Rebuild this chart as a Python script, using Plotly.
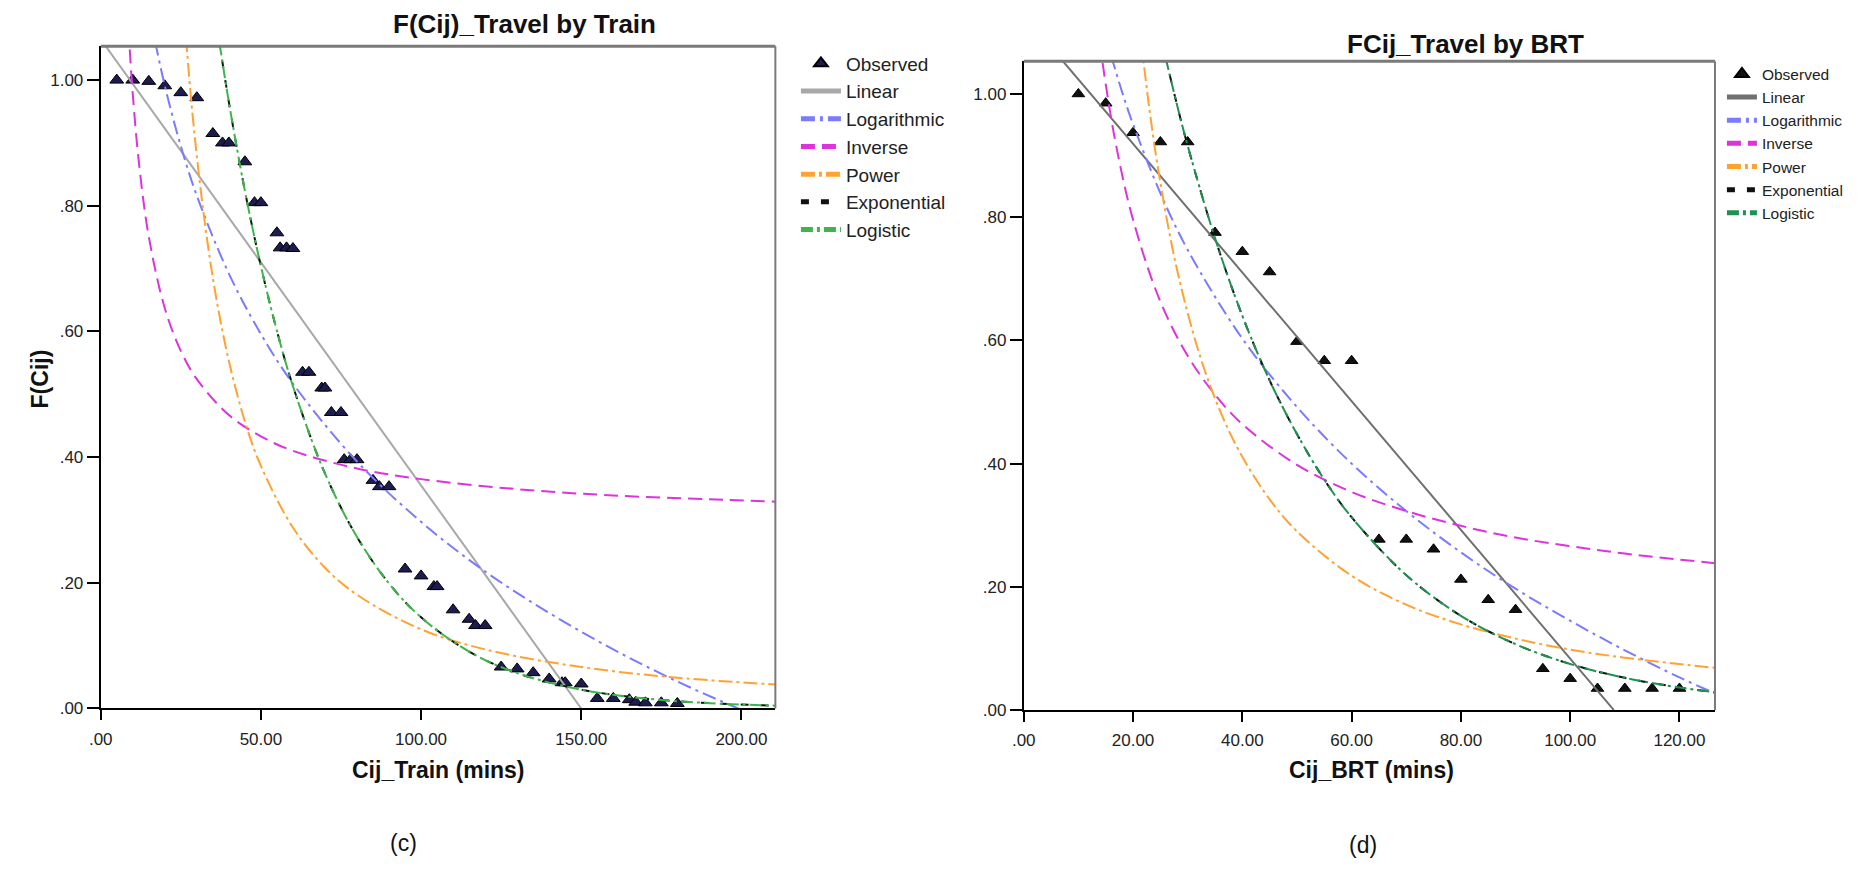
import plotly.graph_objects as go

W, H = 1866, 872
FONT = "Liberation Sans, Arial, sans-serif"

# ---------------- (c) Travel by Train ----------------
train_cij = [5, 10, 15, 20, 25, 30, 35, 38, 40, 45, 48, 50, 55, 56, 58, 60, 63, 65, 69, 70,
             72, 75, 76, 78, 80, 85, 87, 90, 95, 100, 104, 105, 110, 115, 117, 120, 125, 130,
             135, 140, 144, 145, 150, 155, 160, 165, 167, 170, 175, 180]
train_fcij = [1.000, 1.000, 0.998, 0.991, 0.980, 0.972, 0.915, 0.900, 0.900, 0.870, 0.805, 0.805,
              0.757, 0.733, 0.733, 0.732, 0.535, 0.535, 0.510, 0.510, 0.471, 0.471, 0.396, 0.396,
              0.396, 0.363, 0.353, 0.353, 0.222, 0.211, 0.194, 0.194, 0.157, 0.142, 0.132, 0.132,
              0.066, 0.063, 0.057, 0.047, 0.041, 0.041, 0.039, 0.016, 0.016, 0.014, 0.010, 0.009,
              0.009, 0.008]

train_linear_x = [0, 150]
train_linear_y = [1.065, 0.0]
train_log_x = [17, 20, 25, 30, 40, 50, 60, 80, 100, 120, 140, 160, 180, 199, 211]
train_log_y = [1.061, 0.991, 0.895, 0.816, 0.692, 0.596, 0.517, 0.393, 0.297, 0.218, 0.152,
               0.094, 0.043, 0.0, -0.025]
train_inv_x = [8, 9, 10, 12, 15, 20, 25, 30, 40, 50, 60, 80, 100, 130, 160, 190, 211]
train_inv_y = [1.149, 1.054, 0.978, 0.865, 0.751, 0.637, 0.569, 0.524, 0.467, 0.433, 0.410,
               0.382, 0.365, 0.349, 0.339, 0.333, 0.329]
train_pow_x = [26, 28, 30, 33, 36, 40, 45, 50, 60, 70, 80, 100, 120, 150, 180, 211]
train_pow_y = [1.107, 0.982, 0.879, 0.754, 0.655, 0.553, 0.457, 0.386, 0.288, 0.224, 0.181,
               0.126, 0.094, 0.066, 0.049, 0.038]
train_exp_x = [36, 40, 45, 50, 55, 60, 70, 80, 90, 100, 115, 130, 150, 170, 190, 211]
train_exp_y = [1.095, 0.965, 0.824, 0.704, 0.601, 0.513, 0.374, 0.273, 0.199, 0.145, 0.0905,
               0.0563, 0.030, 0.0159, 0.0085, 0.0045]
train_lgs_x = [36, 40, 45, 50, 55, 60, 70, 80, 90, 100, 115, 130, 150, 170, 190, 211]
train_lgs_y = [1.095, 0.965, 0.824, 0.704, 0.601, 0.513, 0.374, 0.273, 0.199, 0.145, 0.0905,
               0.0563, 0.030, 0.0159, 0.0085, 0.0045]

train_xticks = [0, 50, 100, 150, 200]
train_xtext = [".00", "50.00", "100.00", "150.00", "200.00"]

# ---------------- (d) Travel by BRT ----------------
brt_cij = [10, 15, 20, 25, 30, 35, 40, 45, 50, 55, 60, 65, 70, 75, 80, 85, 90, 95, 100, 105,
           110, 115, 120]
brt_fcij = [1.000, 0.985, 0.937, 0.922, 0.922, 0.775, 0.744, 0.711, 0.598, 0.567, 0.567, 0.277,
            0.277, 0.261, 0.212, 0.179, 0.163, 0.067, 0.051, 0.035, 0.035, 0.035, 0.035]

brt_linear_x = [0, 108]
brt_linear_y = [1.128, 0.0]
brt_log_x = [16, 18, 20, 25, 30, 40, 50, 60, 70, 80, 90, 100, 110, 120, 127]
brt_log_y = [1.062, 1.003, 0.951, 0.839, 0.747, 0.603, 0.492, 0.400, 0.323, 0.256, 0.197,
             0.145, 0.097, 0.053, 0.025]
brt_inv_x = [13, 14, 15, 17, 20, 25, 30, 35, 40, 50, 60, 70, 80, 90, 100, 110, 127]
brt_inv_y = [1.152, 1.079, 1.016, 0.912, 0.796, 0.663, 0.575, 0.512, 0.464, 0.398, 0.354,
             0.323, 0.299, 0.280, 0.266, 0.254, 0.238]
brt_pow_x = [21, 23, 25, 28, 32, 36, 40, 45, 50, 60, 70, 80, 90, 100, 110, 127]
brt_pow_y = [1.124, 0.975, 0.856, 0.717, 0.582, 0.484, 0.411, 0.342, 0.290, 0.218, 0.171,
             0.139, 0.116, 0.098, 0.085, 0.068]
brt_exp_x = [25, 28, 30, 35, 40, 45, 50, 55, 60, 70, 80, 90, 100, 110, 120, 127]
brt_exp_y = [1.095, 0.984, 0.916, 0.766, 0.640, 0.535, 0.448, 0.374, 0.313, 0.219, 0.153,
             0.107, 0.0748, 0.0523, 0.0366, 0.0285]
brt_lgs_x = [25, 28, 30, 35, 40, 45, 50, 55, 60, 70, 80, 90, 100, 110, 120, 127]
brt_lgs_y = [1.095, 0.984, 0.916, 0.766, 0.640, 0.535, 0.448, 0.374, 0.313, 0.219, 0.153,
             0.107, 0.0748, 0.0523, 0.0366, 0.0285]

brt_xticks = [0, 20, 40, 60, 80, 100, 120]
brt_xtext = [".00", "20.00", "40.00", "60.00", "80.00", "100.00", "120.00"]

fcij_ticks = [0, 0.2, 0.4, 0.6, 0.8, 1.0]
fcij_text = [".00", ".20", ".40", ".60", ".80", "1.00"]

model_names = ["Linear", "Logarithmic", "Inverse", "Power", "Exponential", "Logistic"]


def px_x(p):
    return p / W


def px_y(p):
    return 1 - p / H


fig = go.Figure()


def add_panel(xa, ya, legend, obs_x, obs_y, curves, colors, marker_fill, msize):
    fig.add_trace(go.Scatter(
        x=obs_x, y=obs_y, mode="markers", name="Observed",
        xaxis=xa, yaxis=ya, legend=legend, cliponaxis=False,
        marker=dict(symbol="triangle-up", size=msize, color=marker_fill,
                    line=dict(color="#000000", width=1)),
    ))
    dashes = ["solid", "14px,5px,3px,5px", "14px,7px", "14px,4px,3px,4px",
              "8px,12px", "12px,4px,3px,4px"]
    for (cx, cy), name, col, dash in zip(curves, model_names, colors, dashes):
        fig.add_trace(go.Scatter(
            x=cx, y=cy, mode="lines", name=name, xaxis=xa, yaxis=ya, legend=legend,
            line=dict(color=col, width=2, dash=dash,
                      shape="linear" if name == "Linear" else "spline"),
        ))


add_panel("x", "y", "legend", train_cij, train_fcij,
          [(train_linear_x, train_linear_y), (train_log_x, train_log_y),
           (train_inv_x, train_inv_y), (train_pow_x, train_pow_y),
           (train_exp_x, train_exp_y), (train_lgs_x, train_lgs_y)],
          ["#a8a8a8", "#7b7bff", "#dd33dd", "#ffa232", "#111111", "#3cb64a"],
          "#1c1c50", 12)

add_panel("x2", "y2", "legend2", brt_cij, brt_fcij,
          [(brt_linear_x, brt_linear_y), (brt_log_x, brt_log_y),
           (brt_inv_x, brt_inv_y), (brt_pow_x, brt_pow_y),
           (brt_exp_x, brt_exp_y), (brt_lgs_x, brt_lgs_y)],
          ["#6f6f6f", "#7b7bff", "#dd33dd", "#ffa232", "#111111", "#1f9150"],
          "#111111", 11)

axis_common = dict(showgrid=False, zeroline=False, showline=True, linecolor="#000000",
                   linewidth=2, ticks="outside", tickwidth=2, tickcolor="#000000",
                   tickfont=dict(family=FONT, size=17, color="#222222"), fixedrange=True)

fig.update_layout(
    width=W, height=H, autosize=False,
    margin=dict(l=0, r=0, t=0, b=0),
    paper_bgcolor="#ffffff", plot_bgcolor="#ffffff",
    font=dict(family=FONT, color="#222222"),
    xaxis=dict(domain=[px_x(89.3), px_x(768.3)], range=[0, 210.6], anchor="y",
               tickvals=train_xticks, ticktext=train_xtext, ticklen=10,
               ticklabelstandoff=4, **axis_common),
    yaxis=dict(domain=[px_y(716.7), px_y(46.7)], range=[0, 1.054], anchor="x",
               tickvals=fcij_ticks, ticktext=fcij_text, ticklen=12, **axis_common),
    xaxis2=dict(domain=[px_x(1018.3), px_x(1714)], range=[0, 126.5], anchor="y2",
                tickvals=brt_xticks, ticktext=brt_xtext, ticklen=10,
                ticklabelstandoff=4, **axis_common),
    yaxis2=dict(domain=[px_y(718.3), px_y(62)], range=[0, 1.053], anchor="x2",
                tickvals=fcij_ticks, ticktext=fcij_text, ticklen=12, **axis_common),
    legend=dict(x=px_x(789), y=px_y(45), xanchor="left", yanchor="top",
                font=dict(family=FONT, size=19, color="#222222"), itemwidth=40,
                bgcolor="rgba(0,0,0,0)", itemsizing="constant", tracegroupgap=0),
    legend2=dict(x=px_x(1721), y=px_y(58), xanchor="left", yanchor="top",
                 font=dict(family=FONT, size=15.5, color="#222222"), itemwidth=30,
                 bgcolor="rgba(0,0,0,0)", itemsizing="constant", tracegroupgap=0),
    showlegend=True,
)

# grey frame on the top and right edges of each plot area
for xr, yr in (("x", "y"), ("x2", "y2")):
    fig.add_shape(type="line", xref=f"{xr} domain", yref=f"{yr} domain",
                  x0=0, x1=1, y0=1, y1=1, line=dict(color="#7a7a7a", width=3))
    fig.add_shape(type="line", xref=f"{xr} domain", yref=f"{yr} domain",
                  x0=1, x1=1, y0=0, y1=1, line=dict(color="#7a7a7a", width=2))

texts = [
    ("F(Cij)_Travel by Train", 516, 24, 26, "bold", 0),
    ("FCij_Travel by BRT", 1463, 45, 26, "bold", 0),
    ("Cij_Train (mins)", 429, 779, 23, "bold", 0),
    ("Cij_BRT (mins)", 1368, 779, 23, "bold", 0),
    ("F(Cij)", 28, 383, 23, "bold", -90),
    ("(c)", 394, 853, 23, "normal", 0),
    ("(d)", 1360, 855, 23, "normal", 0),
]
for txt, x, y, size, weight, angle in texts:
    fig.add_annotation(text=txt, x=px_x(x), y=px_y(y), xref="paper", yref="paper",
                       xanchor="center", yanchor="middle", showarrow=False, textangle=angle,
                       font=dict(family=FONT, size=size, weight=weight, color="#111111"))

fig.write_html("out.html")
